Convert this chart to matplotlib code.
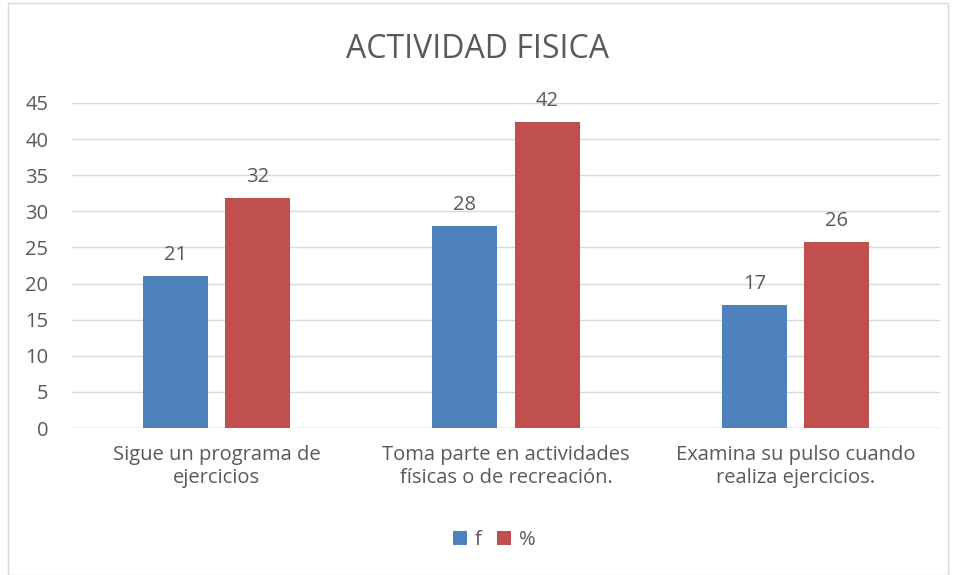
import matplotlib
matplotlib.use("Agg")
import matplotlib.pyplot as plt
import numpy as np
from matplotlib.patches import Rectangle

categories = ["Sigue un programa de\nejercicios",
              "Toma parte en actividades\nfísicas o de recreación.",
              "Examina su pulso cuando\nrealiza ejercicios."]
f_values = [21, 28, 17]
pct_values = [31.8, 42.4, 25.8]
series_names = ["f", "%"]
yticks = [0, 5, 10, 15, 20, 25, 30, 35, 40, 45]

plt.rcParams['font.family'] = ['Open Sans', 'DejaVu Sans']
txt = '#595959'
blue = '#4F81BD'
red = '#C0504D'

fig = plt.figure(figsize=(9.56, 5.75), dpi=100)
fig.patches.append(Rectangle((8/956, 0), 940/956, 572/575, transform=fig.transFigure,
                             fill=False, edgecolor='#D9D9D9', linewidth=1))
ax = fig.add_axes([72/956, 1 - 428/575, 868/956, 325/575])

x = np.arange(len(categories))
w = 0.225
gap = 0.059
b1 = ax.bar(x - (w + gap)/2, f_values, w, color=blue, label=series_names[0], zorder=3)
b2 = ax.bar(x + (w + gap)/2, pct_values, w, color=red, label=series_names[1], zorder=3)
for bars, vals in ((b1, f_values), (b2, pct_values)):
    for r, v in zip(bars, vals):
        ax.annotate(f"{v:.0f}", (r.get_x() + r.get_width()/2, r.get_height()),
                    xytext=(0, 8), textcoords='offset points', ha='center', va='bottom',
                    fontsize=14.5, color=txt)

ax.set_xlim(-0.5, 2.5)
ax.set_ylim(0, 45)
ax.set_yticks(yticks)
ax.set_xticks(x)
ax.set_xticklabels(categories, fontsize=14.5, color=txt, linespacing=1.25)
ax.tick_params(axis='y', labelsize=14.5, labelcolor=txt, length=0, pad=17)
ax.tick_params(axis='x', length=0, pad=12)
ax.grid(axis='y', color='#D9D9D9', linewidth=1, zorder=0)
for s in ax.spines.values():
    s.set_visible(False)
ax.axhline(0, color='#D9D9D9', linewidth=1, zorder=2)

fig.text(0.5, 1 - 49/575, "ACTIVIDAD FISICA", ha='center', va='center', fontsize=23, color=txt)
fig.legend(loc='center', bbox_to_anchor=(0.517, 1 - 540/575), ncol=2, frameon=False,
           fontsize=14.5, labelcolor=txt, handlelength=0.7, handleheight=0.7,
           handletextpad=0.35, columnspacing=0.8)

fig.savefig("out.png", dpi=100)
